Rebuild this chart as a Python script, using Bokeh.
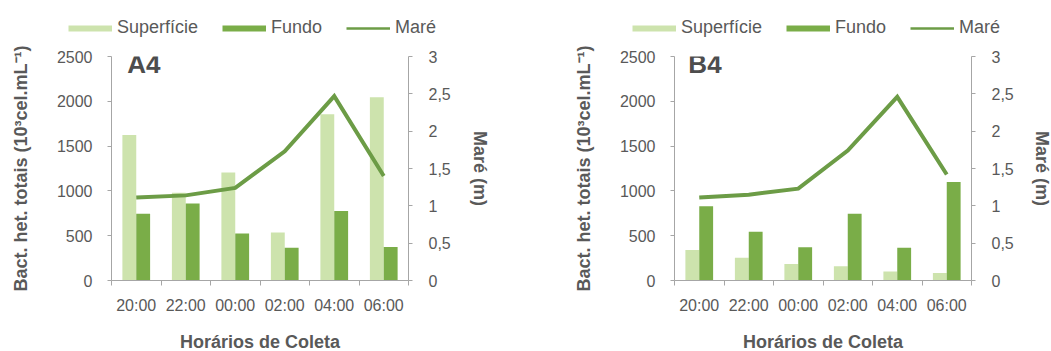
from bokeh.plotting import figure
from bokeh.models import (ColumnDataSource, Range1d, LinearAxis, FixedTicker,
                          Legend, LegendItem, Label)
from bokeh.layouts import row, column
from bokeh.transform import dodge
from bokeh.embed import file_html
from bokeh.resources import INLINE
import numpy as np

# ---- data ----
times = ["20:00", "22:00", "00:00", "02:00", "04:00", "06:00"]

a4_superficie = [1625, 980, 1205, 535, 1855, 2045]
a4_fundo = [745, 860, 525, 365, 775, 375]
a4_mare = [1.11, 1.14, 1.24, 1.73, 2.47, 1.40]

b4_superficie = [340, 255, 185, 160, 100, 85]
b4_fundo = [830, 545, 370, 745, 365, 1100]
b4_mare = [1.11, 1.15, 1.23, 1.74, 2.46, 1.42]

y_ticks = [0, 500, 1000, 1500, 2000, 2500]
mare_ticks = [0, 0.5, 1, 1.5, 2, 2.5, 3]
mare_tick_labels = ["0", "0,5", "1", "1,5", "2", "2,5", "3"]
series_names = ["Superfície", "Fundo", "Maré"]

# ---- style ----
FONT = "Liberation Sans"
TXT = "#595959"
AXC = "#a6a6a6"
C_SUP = "#cde3ad"
C_FUN = "#7aad48"
C_MARE = "#6c9c46"
LEG_H = 40


def legend_fig(width, vx):
    lf = figure(width=width, height=LEG_H, min_border=0,
                x_range=Range1d(0, 1), y_range=Range1d(0, 1),
                x_axis_location=None, y_axis_location=None,
                output_backend="svg", toolbar_location=None,
                outline_line_color=None, background_fill_color="white",
                border_fill_color="white")
    lf.xgrid.visible = False
    lf.ygrid.visible = False
    # legend-only renderers: their points lie outside the visible ranges
    off = ColumnDataSource(dict(x=[-5, -4], y=[-5, -4]))
    r1 = lf.line(x="x", y="y", source=off, line_width=6, line_color=C_SUP, line_cap="butt")
    r2 = lf.line(x="x", y="y", source=off, line_width=6, line_color=C_FUN, line_cap="butt")
    r3 = lf.line(x="x", y="y", source=off, line_width=2.5, line_color=C_MARE, line_cap="butt")
    legend = Legend(items=[LegendItem(label=series_names[0], renderers=[r1]),
                           LegendItem(label=series_names[1], renderers=[r2]),
                           LegendItem(label=series_names[2], renderers=[r3])],
                    orientation="horizontal", location=(vx, 2),
                    background_fill_alpha=0, border_line_color=None,
                    padding=0, margin=0, spacing=24, label_standoff=5,
                    glyph_width=44, glyph_height=8, label_height=20,
                    label_text_font=FONT, label_text_font_size="18px",
                    label_text_color=TXT)
    lf.add_layout(legend)
    return lf


def panel(name, sup, fun, mare, left, top, bottom, right, rstand, title_xy):
    n = len(times)
    src = ColumnDataSource(dict(x=list(np.arange(n) + 0.5), sup=sup, fun=fun, mare=mare))
    p = figure(frame_width=297, frame_height=224,
               x_range=Range1d(0, n), y_range=Range1d(0, 2500),
               output_backend="svg", toolbar_location=None,
               min_border_left=left, min_border_top=top,
               min_border_bottom=bottom, min_border_right=right,
               outline_line_color=None, background_fill_color="white",
               border_fill_color="white")
    p.xgrid.visible = False
    p.ygrid.visible = False
    p.extra_y_ranges = {"mare": Range1d(0, 3)}

    p.vbar(x=dodge("x", -0.14, range=p.x_range), top="sup", width=0.28,
           source=src, color=C_SUP, line_color=None)
    p.vbar(x=dodge("x", 0.14, range=p.x_range), top="fun", width=0.28,
           source=src, color=C_FUN, line_color=None)
    p.line(x="x", y="mare", source=src, y_range_name="mare",
           line_width=4, line_color=C_MARE, line_join="miter")

    # x axis: labels at centers, ticks between categories
    xa = p.xaxis[0]
    xa.ticker = FixedTicker(ticks=[i + 0.5 for i in range(n)],
                            minor_ticks=list(range(n + 1)))
    xa.major_label_overrides = {float(i + 0.5): t for i, t in enumerate(times)}
    xa.major_tick_line_color = None
    xa.minor_tick_in = 0
    xa.minor_tick_out = 5
    xa.minor_tick_line_color = AXC
    xa.axis_line_color = AXC
    xa.major_label_standoff = 10
    xa.major_label_text_font = FONT
    xa.major_label_text_font_size = "16px"
    xa.major_label_text_color = TXT
    xa.axis_label = "Horários de Coleta"
    xa.axis_label_text_font = FONT
    xa.axis_label_text_font_style = "bold"
    xa.axis_label_text_font_size = "18px"
    xa.axis_label_text_color = TXT
    xa.axis_label_standoff = 15

    ya = p.yaxis[0]
    ya.ticker = FixedTicker(ticks=y_ticks)
    ya.minor_tick_line_color = None
    ya.major_tick_in = 0
    ya.major_tick_out = 4
    ya.major_tick_line_color = AXC
    ya.axis_line_color = AXC
    ya.major_label_standoff = 15
    ya.major_label_text_font = FONT
    ya.major_label_text_font_size = "16px"
    ya.major_label_text_color = TXT
    ya.axis_label = "Bact. het. totais (10³cel.mL⁻¹)"
    ya.axis_label_text_font = FONT
    ya.axis_label_text_font_style = "bold"
    ya.axis_label_text_font_size = "18px"
    ya.axis_label_text_color = TXT
    ya.axis_label_standoff = 23

    ra = LinearAxis(y_range_name="mare",
                    ticker=FixedTicker(ticks=mare_ticks),
                    major_label_overrides={float(v): s for v, s in zip(mare_ticks, mare_tick_labels)})
    ra.minor_tick_line_color = None
    ra.major_tick_in = 0
    ra.major_tick_out = 4
    ra.major_tick_line_color = AXC
    ra.axis_line_color = AXC
    ra.major_label_standoff = 16
    ra.major_label_text_font = FONT
    ra.major_label_text_font_size = "16px"
    ra.major_label_text_color = TXT
    ra.axis_label = "Maré (m)"
    ra.axis_label_text_font = FONT
    ra.axis_label_text_font_style = "bold"
    ra.axis_label_text_font_size = "18px"
    ra.axis_label_text_color = TXT
    ra.axis_label_standoff = rstand
    p.add_layout(ra, "right")

    p.add_layout(Label(x=title_xy[0], y=title_xy[1], text=name,
                       text_baseline="alphabetic",
                       text_font=FONT, text_font_style="bold",
                       text_font_size="26px", text_color="#4d4d4d"))
    return p


p1 = panel("A4", a4_superficie, a4_fundo, a4_mare,
           left=111, top=54 - LEG_H, bottom=69, right=112, rstand=16,
           title_xy=(0.32, 2418))
p2 = panel("B4", b4_superficie, b4_fundo, b4_mare,
           left=154, top=56 - LEG_H, bottom=67, right=80, rstand=15,
           title_xy=(0.28, 2418))

l1 = legend_fig(520, 68)
l2 = legend_fig(530, 112)

layout = column(row(l1, l2, spacing=0), row(p1, p2, spacing=0), spacing=0)
open("out.html", "w").write(file_html(layout, INLINE))
